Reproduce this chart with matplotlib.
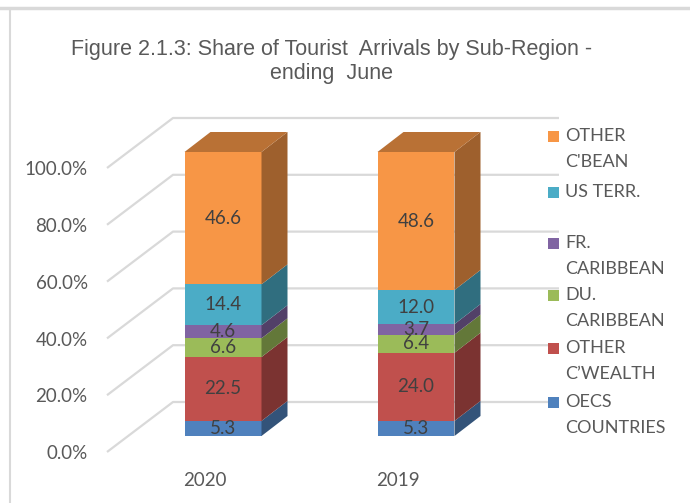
import matplotlib.pyplot as plt
from matplotlib.patches import Polygon, Rectangle
from matplotlib.lines import Line2D

years = ['2020', '2019']
series = ['OECS\nCOUNTRIES', 'OTHER\nC\u2019WEALTH', 'DU.\nCARIBBEAN',
          'FR.\nCARIBBEAN', 'US TERR.\n', "OTHER\nC'BEAN"]
oecs = [5.3, 5.3]
other_cw = [22.5, 24.0]
du_carib = [6.6, 6.4]
fr_carib = [4.6, 3.7]
us_terr = [14.4, 12.0]
other_cbean = [46.6, 48.6]
ticks = [0, 20, 40, 60, 80, 100]

values = [oecs, other_cw, du_carib, fr_carib, us_terr, other_cbean]
colors = ['#4F81BD', '#C0504D', '#9BBB59', '#8064A2', '#4BACC6', '#F79646']


def shade(hex_color, f):
    r, g, b = (int(hex_color[i:i + 2], 16) / 255 for i in (1, 3, 5))
    return (r * f, g * f, b * f)


W, H = 690, 503
fig = plt.figure(figsize=(W / 100, H / 100), dpi=100)
ax = fig.add_axes([0, 0, 1, 1])
ax.axis('off')

# pixel layout of the 3d chart -> data units
x0_px, xstep_px = 223, 193
y0_px, ystep_px = 436, 2.84
ax.set_xlim(-x0_px / xstep_px, (W - x0_px) / xstep_px)
ax.set_ylim((y0_px - H) / ystep_px, y0_px / ystep_px)

bar_w = 77 / xstep_px
dx, dv = 26 / xstep_px, 20 / ystep_px          # bar depth
wall_front_x, wall_front_dv = (107 - x0_px) / xstep_px, -16 / ystep_px
wall_back_x, wall_back_dv = (173 - x0_px) / xstep_px, 34 / ystep_px
wall_end_x = (559 - x0_px) / xstep_px
grid_c = '#D9D9D9'
txt_c = '#595959'

# gridlines on side and back walls
for t in ticks:
    ax.plot([wall_front_x, wall_back_x, wall_end_x],
            [t + wall_front_dv, t + wall_back_dv, t + wall_back_dv],
            color=grid_c, lw=1.6, zorder=1, solid_capstyle='butt')
    ax.text(wall_front_x - 0.1, t + wall_front_dv - 0.6, f'{t:.1f}%',
            ha='right', va='center', fontsize=13.5, color=txt_c, family='Lato')

# stacked 3d-looking bars
xs = list(range(len(years)))
bottoms = [0.0] * len(years)
for vals, col in zip(values, colors):
    ax.bar(xs, vals, bar_w, bottom=bottoms, color=col, zorder=3)
    for x, b, v in zip(xs, bottoms, vals):
        xr = x + bar_w / 2
        ax.add_patch(Polygon([(xr, b), (xr + dx, b + dv), (xr + dx, b + v + dv), (xr, b + v)],
                             closed=True, facecolor=shade(col, 0.64), edgecolor='none', zorder=3))
        ax.text(x, b + v / 2, f'{v:.1f}', ha='center', va='center',
                fontsize=13.5, color='#404040', family='Lato', zorder=5)
    bottoms = [b + v for b, v in zip(bottoms, vals)]

# top faces
for x, top in zip(xs, bottoms):
    xl, xr = x - bar_w / 2, x + bar_w / 2
    ax.add_patch(Polygon([(xl, top), (xl + dx, top + dv), (xr + dx, top + dv), (xr, top)],
                         closed=True, facecolor=shade(colors[-1], 0.75), edgecolor='none', zorder=3))

for x, yr in zip(xs, years):
    ax.text(x - 18 / xstep_px, -44 / ystep_px, yr, ha='center', va='center',
            fontsize=13.5, color=txt_c, family='Lato')

# title
fig.text(332 / W, 1 - 50 / H, 'Figure 2.1.3: Share of Tourist  Arrivals by Sub-Region -',
         ha='center', va='center', fontsize=15.5, color=txt_c, family='Liberation Sans')
fig.text(331 / W, 1 - 74 / H, 'ending  June',
         ha='center', va='center', fontsize=15.5, color=txt_c, family='Liberation Sans')

# legend (top entry = last series)
leg_y = [402, 348, 295, 243, 192, 136]
for lab, col, ly in zip(series, colors, leg_y):
    fig.patches.append(Rectangle((548 / W, 1 - (ly + 6) / H), 11 / W, 11 / H,
                                 transform=fig.transFigure, facecolor=col, edgecolor='none'))
    for k, line in enumerate(lab.split('\n')):
        if line:
            fig.text(565 / W, 1 - (ly + 26 * k) / H, line, ha='left', va='center',
                     fontsize=13, color=txt_c, family='Lato')

# page frame
fig.lines.append(Line2D([0, 1], [1 - 8 / H, 1 - 8 / H], transform=fig.transFigure,
                        color='#D9D9D9', lw=2.5))
fig.lines.append(Line2D([10 / W, 10 / W], [0, 1 - 10 / H], transform=fig.transFigure,
                        color='#D9D9D9', lw=1.5))

fig.savefig('out.png', dpi=100)
